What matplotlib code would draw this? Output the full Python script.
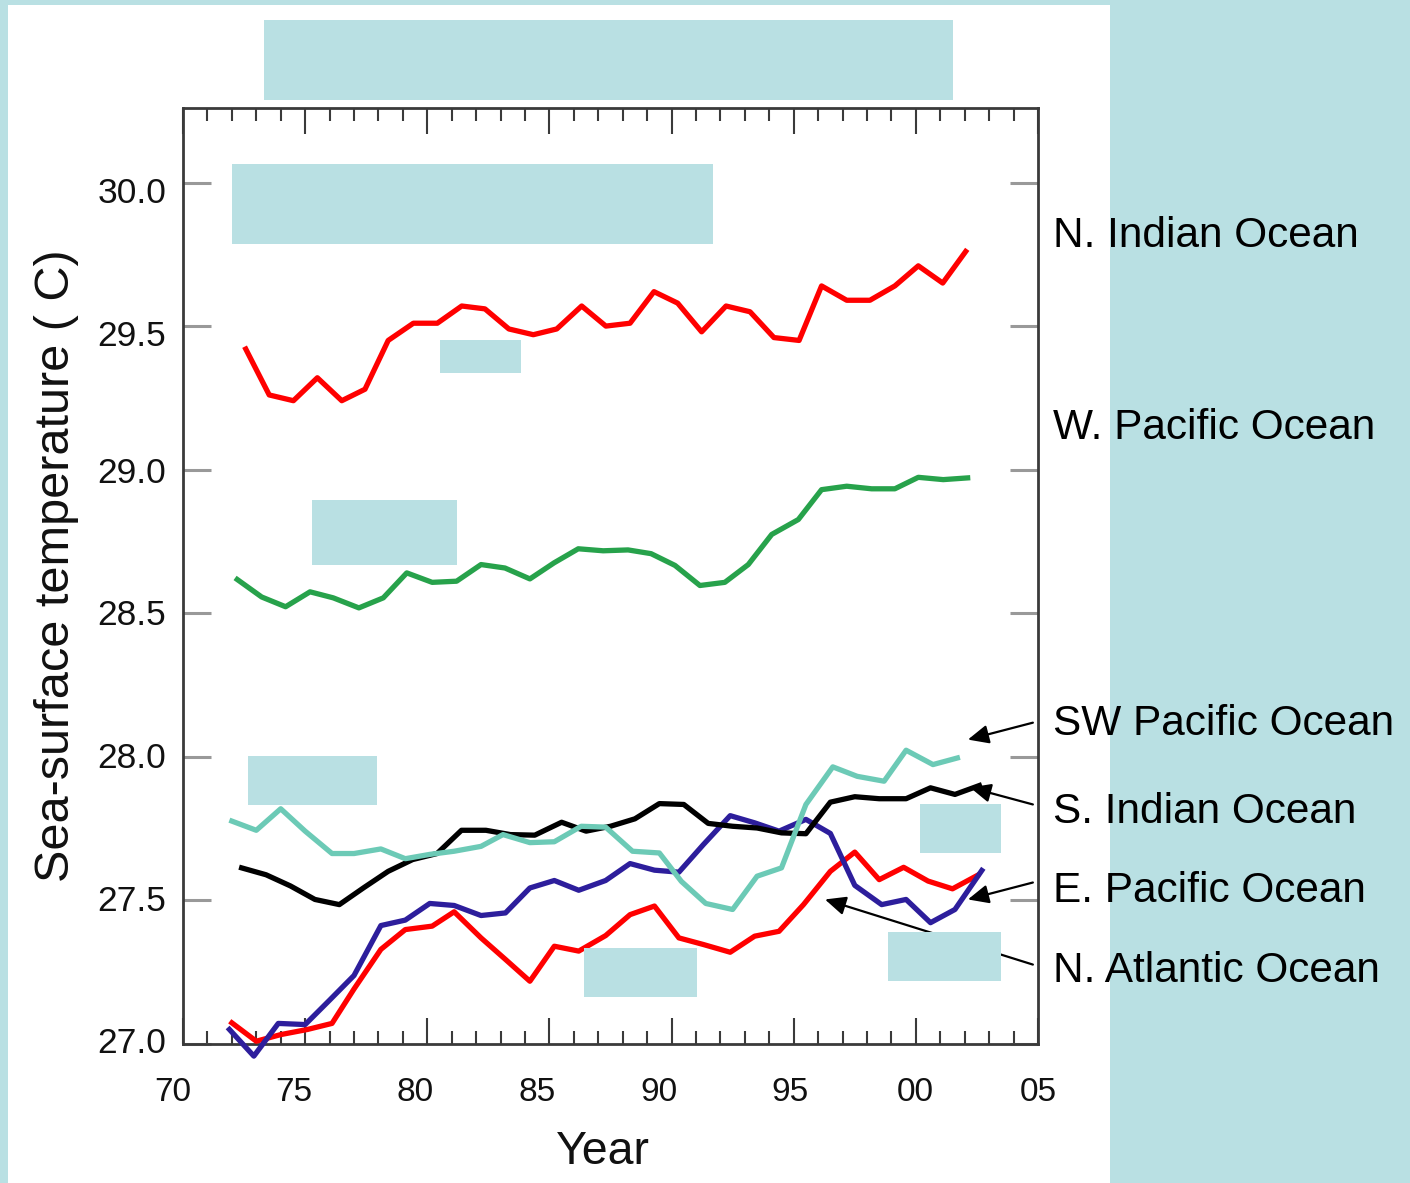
import matplotlib
matplotlib.use('Agg')
import matplotlib.pyplot as plt
from matplotlib.patches import Rectangle
from matplotlib.transforms import ScaledTranslation
import numpy as np

plt.rcParams['font.family'] = ['Liberation Sans', 'DejaVu Sans']

# ---------------- data (years since 1900, SST in deg C) ----------------
ni_years = [72.57, 73.53, 74.52, 75.50, 76.50, 77.45, 78.40, 79.43, 80.41, 81.41,
            82.36, 83.34, 84.34, 85.30, 86.32, 87.31, 88.30, 89.28, 90.25, 91.23,
            92.23, 93.21, 94.19, 95.22, 96.14, 97.17, 98.12, 99.14, 100.10, 101.10, 102.04]
ni_sst = [29.42, 29.26, 29.24, 29.32, 29.24, 29.28, 29.45, 29.51, 29.51, 29.57,
          29.56, 29.49, 29.47, 29.49, 29.57, 29.50, 29.51, 29.62, 29.58, 29.48,
          29.57, 29.55, 29.46, 29.45, 29.64, 29.59, 29.59, 29.64, 29.71, 29.65, 29.76]

wp_years = [72.22, 73.22, 74.20, 75.20, 76.15, 77.20, 78.20, 79.16, 80.20, 81.20,
            82.20, 83.18, 84.20, 85.19, 86.18, 87.20, 88.22, 89.16, 90.14, 91.16,
            92.18, 93.14, 94.10, 95.19, 96.14, 97.17, 98.19, 99.14, 100.10, 101.12, 102.12]
wp_sst = [28.617, 28.556, 28.522, 28.574, 28.553, 28.518, 28.553, 28.640, 28.607, 28.611,
          28.669, 28.657, 28.619, 28.675, 28.724, 28.717, 28.720, 28.707, 28.666, 28.596,
          28.607, 28.669, 28.774, 28.826, 28.930, 28.942, 28.933, 28.933, 28.973, 28.965, 28.971]

swp_years = [72.0, 73.0, 74.0, 75.0, 76.1, 77.0, 78.1, 79.1, 80.1, 81.1,
             82.2, 83.1, 84.2, 85.2, 86.3, 87.3, 88.4, 89.5, 90.4, 91.4,
             92.5, 93.5, 94.5, 95.5, 96.6, 97.6, 98.7, 99.6, 100.7, 101.7]
swp_sst = [27.775, 27.743, 27.818, 27.740, 27.662, 27.662, 27.678, 27.644, 27.659, 27.670,
           27.687, 27.728, 27.700, 27.703, 27.757, 27.754, 27.670, 27.664, 27.565, 27.488,
           27.467, 27.583, 27.612, 27.833, 27.964, 27.931, 27.914, 28.022, 27.972, 27.995]

si_years = [72.4, 73.4, 74.4, 75.4, 76.4, 77.4, 78.4, 79.4, 80.4, 81.4,
            82.4, 83.4, 84.4, 85.5, 86.5, 87.5, 88.5, 89.5, 90.5, 91.5,
            92.5, 93.5, 94.5, 95.5, 96.5, 97.5, 98.5, 99.6, 100.6, 101.6, 102.6]
si_sst = [27.612, 27.588, 27.549, 27.502, 27.484, 27.543, 27.600, 27.641, 27.662, 27.743,
          27.743, 27.728, 27.726, 27.771, 27.740, 27.757, 27.783, 27.836, 27.833, 27.767,
          27.757, 27.751, 27.734, 27.731, 27.841, 27.860, 27.853, 27.853, 27.891, 27.868, 27.899]

ep_years = [71.9, 72.9, 73.9, 75.0, 76.0, 77.0, 78.1, 79.1, 80.1, 81.1,
            82.2, 83.2, 84.2, 85.2, 86.2, 87.3, 88.3, 89.3, 90.3, 91.3,
            92.4, 93.4, 94.4, 95.5, 96.5, 97.5, 98.6, 99.6, 100.6, 101.6, 102.7]
ep_sst = [27.049, 26.956, 27.070, 27.066, 27.151, 27.237, 27.411, 27.430, 27.488, 27.481,
          27.446, 27.455, 27.542, 27.568, 27.534, 27.568, 27.627, 27.604, 27.597, 27.693,
          27.794, 27.769, 27.740, 27.781, 27.732, 27.551, 27.484, 27.502, 27.421, 27.467, 27.603]

na_years = [72.0, 73.0, 74.0, 75.1, 76.1, 77.0, 78.1, 79.1, 80.2, 81.1,
            82.2, 83.2, 84.2, 85.2, 86.2, 87.3, 88.3, 89.3, 90.3, 91.3,
            92.4, 93.4, 94.4, 95.4, 96.5, 97.5, 98.5, 99.5, 100.5, 101.5, 102.5]
na_sst = [27.072, 27.008, 27.031, 27.049, 27.070, 27.190, 27.328, 27.397, 27.409, 27.459,
          27.368, 27.293, 27.217, 27.339, 27.322, 27.376, 27.449, 27.479, 27.368, 27.345,
          27.318, 27.374, 27.391, 27.484, 27.600, 27.667, 27.571, 27.614, 27.566, 27.539, 27.585]

x_ticks = [70, 75, 80, 85, 90, 95, 100, 105]
x_ticklabels = ['70', '75', '80', '85', '90', '95', '00', '05']
y_ticks = [27.0, 27.5, 28.0, 28.5, 29.0, 29.5, 30.0]
y_ticklabels = ['27.0', '27.5', '28.0', '28.5', '29.0', '29.5', '30.0']

ocean_names = ['N. Indian Ocean', 'W. Pacific Ocean', 'SW Pacific Ocean',
               'S. Indian Ocean', 'E. Pacific Ocean', 'N. Atlantic Ocean']
ocean_label_y = [29.815, 29.146, 28.115, 27.808, 27.530, 27.251]
# arrows: (label-side tail) -> (curve head), in data units
arrow_tails = [(104.79, 28.118), (104.79, 27.833), (104.79, 27.561), (104.79, 27.275)]
arrow_heads = [(102.13, 28.059), (102.22, 27.892), (102.13, 27.502), (96.28, 27.502)]

# ---------------- figure ----------------
W, H, DPI = 1410, 1183, 100
BG = '#b9e0e3'
fig = plt.figure(figsize=(W / DPI, H / DPI), dpi=DPI, facecolor=BG)

def px_rect(x0, y0, x1, y1, color, z):
    return Rectangle((x0 / W, 1 - y1 / H), (x1 - x0) / W, (y1 - y0) / H,
                     transform=fig.transFigure, facecolor=color, edgecolor='none', zorder=z)

fig.add_artist(px_rect(8, 5, 1110, 1183, 'white', -10))

ax = fig.add_axes([183 / W, 1 - 1043.5 / H, (1038 - 183) / W, (1043.5 - 108) / H])
ax.set_facecolor('none')
ax.set_xlim(70, 105)
ax.set_ylim(27.0, 30.26)

lw = 3.8
ax.plot(na_years, na_sst, color='#ff0000', lw=lw, clip_on=False, zorder=3)
ax.plot(ep_years, ep_sst, color='#2d1e9c', lw=lw, clip_on=False, zorder=3)
ax.plot(si_years, si_sst, color='#000000', lw=lw, clip_on=False, zorder=3)
ax.plot(swp_years, swp_sst, color='#6ccab6', lw=lw, clip_on=False, zorder=3)
ax.plot(wp_years, wp_sst, color='#27a24b', lw=lw, clip_on=False, zorder=3)
ax.plot(ni_years, ni_sst, color='#ff0000', lw=lw, clip_on=False, zorder=3)

for s in ax.spines.values():
    s.set_color('#3a3a3a')
    s.set_linewidth(2.0)

ax.set_xticks(x_ticks)
ax.set_xticklabels(x_ticklabels)
ax.set_xticks(np.arange(70, 106, 1), minor=True)
ax.set_yticks(y_ticks)
ax.set_yticklabels(y_ticklabels)
ax.tick_params(axis='x', which='major', direction='in', length=18.5, width=1.5,
               color='#3a3a3a', top=True, labelsize=24, pad=24, labelcolor='#111111')
ax.tick_params(axis='x', which='minor', direction='in', length=9.4, width=1.5,
               color='#3a3a3a', top=True)
ax.tick_params(axis='y', which='major', direction='in', length=20, width=2.2,
               color='#999999', right=True, labelsize=25.5, pad=12, labelcolor='#111111')
ax.tick_params(axis='y', which='minor', left=False, right=False)

# small nudges of tick labels as in the original artwork (pixels)
x_nudge = [-10, -11, -12.5, -12.5, -12.5, -4, -1, 0]
for lab, dx in zip(ax.get_xticklabels(), x_nudge):
    lab.set_transform(lab.get_transform() + ScaledTranslation(dx / DPI, 0, fig.dpi_scale_trans))
y_nudge = [4, 2.5, 2, 1.5, 0, -6.5, -7]
for lab, dy in zip(ax.get_yticklabels(), y_nudge):
    lab.set_transform(lab.get_transform() + ScaledTranslation(0, dy / DPI, fig.dpi_scale_trans))

fig.text(57 / W, 1 - 566 / H, 'Sea-surface temperature ( C)', rotation=90,
         ha='center', va='center', fontsize=35, color='#111111')
fig.text(603 / W, 1 - 1152 / H, 'Year', ha='center', va='center', fontsize=33.5, color='#111111')

for name, yv in zip(ocean_names, ocean_label_y):
    ax.text(105.61, yv, name, ha='left', va='center', fontsize=30.5,
            color='black', clip_on=False)

for (tx, ty), (hx, hy) in zip(arrow_tails, arrow_heads):
    ax.annotate('', xy=(hx, hy), xytext=(tx, ty), annotation_clip=False,
                arrowprops=dict(arrowstyle='-|>,head_length=0.42,head_width=0.19',
                                mutation_scale=30, lw=1.6, color='black',
                                shrinkA=0, shrinkB=0))

# light-blue masking boxes present in the source image
boxes = [(264, 20, 953, 100), (232, 164, 713, 244), (440, 340, 521, 373),
         (312, 500, 457, 565), (248, 756, 377, 805), (920, 804, 1001, 853),
         (584, 948, 697, 997), (888, 932, 1001, 981)]
for b in boxes:
    fig.add_artist(px_rect(*b, BG, 20))

fig.savefig('out.png', dpi=DPI, facecolor=BG)
